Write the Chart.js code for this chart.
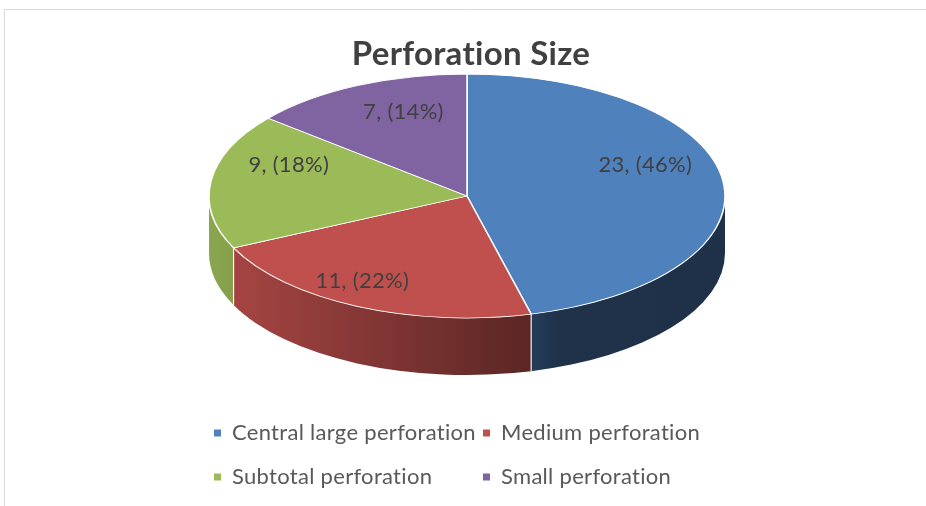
<!DOCTYPE html>
<html>
<head>
<meta charset="utf-8">
<script src="https://cdn.jsdelivr.net/npm/chart.js@4/dist/chart.umd.min.js"></script>
<style>
  html, body { margin: 0; padding: 0; background: #ffffff; }
  canvas { display: block; }
</style>
</head>
<body>
<canvas id="chart" width="926" height="506"></canvas>
<script>
// Perforation size distribution
const chartTitle = 'Perforation Size';
const categories = ['Central large perforation', 'Medium perforation', 'Subtotal perforation', 'Small perforation'];
const counts = [23, 11, 9, 7];
const sliceColors = ['#4f81bd', '#c0504d', '#9bbb59', '#8064a2'];

const total = counts.reduce((a, b) => a + b, 0);
const percents = counts.map(v => Math.round(v / total * 100));

const FONT = 'Lato, "Open Sans", sans-serif';
const SPACING = '0.3px';

// Elliptical footprint of the tilted pie on the page and the thickness of its rim
const PIE = { cx: 467, cy: 196, rx: 258, ry: 122, depth: 57 };

function hexToRgb(hex) {
  const n = parseInt(hex.slice(1), 16);
  return [(n >> 16) & 255, (n >> 8) & 255, n & 255];
}
function shade(hex, f) {
  const [r, g, b] = hexToRgb(hex);
  return `rgb(${Math.round(r * f)},${Math.round(g * f)},${Math.round(b * f)})`;
}

// Rim shading: lit from the left, falling off toward the right
function rimGradient(ctx, color) {
  const x0 = PIE.cx - PIE.rx, x1 = PIE.cx + PIE.rx, w = x1 - x0;
  const g = ctx.createLinearGradient(x0, 0, x1, 0);
  g.addColorStop(0, shade(color, 0.89));
  g.addColorStop((540 - x0) / w, shade(color, 0.46));
  g.addColorStop((556 - x0) / w, shade(color, 0.39));
  g.addColorStop(1, shade(color, 0.38));
  return g;
}

const pie3d = {
  id: 'pie3d',
  beforeDraw(chart) {
    const ctx = chart.ctx;
    ctx.letterSpacing = SPACING;
    ctx.save();
    ctx.strokeStyle = '#d9d9d9';
    ctx.lineWidth = 1;
    ctx.beginPath();
    ctx.moveTo(4.5, 506);
    ctx.lineTo(4.5, 9.5);
    ctx.lineTo(926, 9.5);
    ctx.stroke();
    ctx.restore();
  },
  beforeDatasetsDraw(chart) {
    const ctx = chart.ctx;
    const meta = chart.getDatasetMeta(0);
    const arcs = meta.data;
    const { cx, cy, rx, ry, depth } = PIE;
    const seams = [];

    // Front rim walls (visible between angle 0 and PI)
    arcs.forEach((arc, i) => {
      const s = arc.startAngle, e = arc.endAngle;
      [-2 * Math.PI, 0, 2 * Math.PI].forEach(k => {
        const a = Math.max(s, k), b = Math.min(e, k + Math.PI);
        if (b <= a) return;
        ctx.save();
        ctx.beginPath();
        ctx.ellipse(cx, cy, rx, ry, 0, a - k, b - k, false);
        ctx.ellipse(cx, cy + depth, rx, ry, 0, b - k, a - k, true);
        ctx.closePath();
        ctx.fillStyle = rimGradient(ctx, sliceColors[i]);
        ctx.fill();
        ctx.restore();
      });
      const t = ((s % (2 * Math.PI)) + 2 * Math.PI) % (2 * Math.PI);
      if (t > 0.02 && t < Math.PI - 0.02) seams.push(t);
    });

    // Seams between neighbouring walls
    ctx.save();
    ctx.strokeStyle = 'rgba(255,255,255,0.9)';
    ctx.lineWidth = 1.2;
    seams.forEach(t => {
      const x = cx + rx * Math.cos(t), y = cy + ry * Math.sin(t);
      ctx.beginPath();
      ctx.moveTo(x, y);
      ctx.lineTo(x, y + depth);
      ctx.stroke();
    });
    ctx.restore();

    // Tilt the top face: map the library's circle onto the ellipse
    const ref = arcs[0];
    const R = ref.outerRadius;
    ctx.save();
    ctx.translate(cx, cy);
    ctx.scale(rx / R, ry / R);
    ctx.translate(-ref.x, -ref.y);
  },
  afterDatasetsDraw(chart) {
    const ctx = chart.ctx;
    ctx.restore();

    // Value labels on the top face, with a slight depth foreshortening
    const arcs = chart.getDatasetMeta(0).data;
    const { cx, rx, ry } = PIE;
    const k = 0.72, ly = 176, persp = 0.27;
    ctx.save();
    ctx.font = '22px ' + FONT;
    ctx.fillStyle = '#404040';
    ctx.textAlign = 'center';
    ctx.textBaseline = 'middle';
    arcs.forEach((arc, i) => {
      const m = (arc.startAngle + arc.endAngle) / 2;
      const s = 1 / (1 - persp * Math.sin(m));
      const x = cx + k * rx * Math.cos(m) * s;
      const y = ly + k * ry * Math.sin(m) * s;
      ctx.fillText(`${counts[i]}, (${percents[i]}%)`, x, y);
    });
    ctx.restore();
  },
  afterDraw(chart) {
    // Legend in two aligned columns
    const ctx = chart.ctx;
    const colX = [214, 483];
    const rowY = [433, 477];
    ctx.save();
    ctx.font = '22px ' + FONT;
    ctx.textBaseline = 'middle';
    ctx.textAlign = 'left';
    categories.forEach((label, i) => {
      const x = colX[i % 2], y = rowY[Math.floor(i / 2)];
      ctx.fillStyle = sliceColors[i];
      ctx.fillRect(x, y - 3.5, 7, 7);
      ctx.fillStyle = '#595959';
      ctx.fillText(label, x + 18, y);
    });
    ctx.restore();
  }
};

new Chart(document.getElementById('chart'), {
  type: 'pie',
  data: {
    labels: categories,
    datasets: [{
      data: counts,
      backgroundColor: sliceColors,
      borderColor: '#ffffff',
      borderWidth: 1.3,
      hoverOffset: 0,
      clip: false
    }]
  },
  options: {
    responsive: false,
    animation: false,
    events: [],
    layout: { padding: { left: 16 } },
    plugins: {
      legend: { display: false },
      tooltip: { enabled: false },
      title: {
        display: true,
        text: chartTitle,
        color: '#404040',
        font: { family: FONT, size: 33, weight: 'bold', lineHeight: 1.2 },
        padding: { top: 35, bottom: 10 }
      }
    }
  },
  plugins: [pie3d]
});
</script>
</body>
</html>
